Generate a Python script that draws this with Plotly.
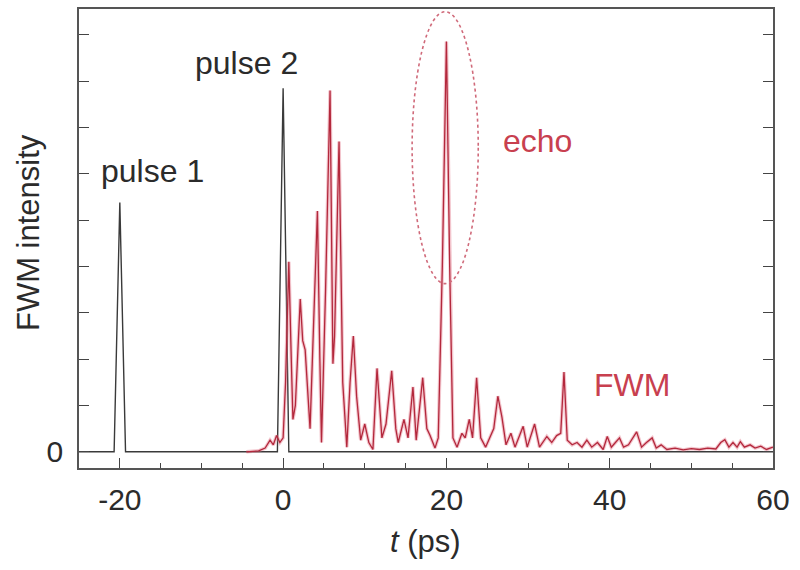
import plotly.graph_objects as go

# ---- data ----
pulse_t = [-25, -20.7, -20.0, -19.3, -0.7, 0.0, 0.7, 60]
pulse_v = [0, 0, 5.38, 0, 0, 7.85, 0, 0]

fwm_t = [-4.5, -3.0, -2.2, -1.6, -1.2, -0.8, -0.4, 0.0, 0.3, 0.7, 1.0, 1.2, 1.5, 2.1, 2.4, 2.7,
         3.3, 3.7, 4.2, 4.5, 4.7, 5.2, 5.75, 6.1, 6.3, 6.85, 7.3, 7.8, 8.2, 8.6, 9.0, 9.5,
         10.0, 10.5, 11.0, 11.5, 11.8, 12.1, 12.6, 13.3, 13.8, 14.1, 14.8, 15.3, 15.9, 16.3,
         17.1, 17.6, 18.0, 18.6, 19.0, 19.5, 20.0, 20.4, 20.8, 21.3, 21.9, 22.3, 22.8, 23.2,
         23.7, 24.2, 24.8, 25.3, 25.8, 26.3, 26.8, 27.3, 27.9, 28.4, 29.4, 29.9, 30.8, 31.4,
         32.3, 32.9, 33.5, 34.0, 34.4, 34.8, 35.4, 36.0, 36.6, 37.2, 37.8, 38.5, 39.2, 39.7,
         40.2, 40.7, 41.2, 41.7, 42.3, 43.3, 43.9, 44.5, 45.2, 45.7, 46.3, 47.0, 48.0, 49.0,
         50.0, 51.0, 52.0, 53.0, 53.6, 54.1, 54.6, 55.1, 55.6, 56.0, 56.5, 57.2, 57.8, 58.5,
         59.2, 60.0]
fwm_v = [0.0, 0.02, 0.08, 0.25, 0.15, 0.35, 0.2, 0.3, 1.5, 4.1, 2.0, 0.7, 1.0, 3.3, 2.4, 2.2,
         0.5, 2.5, 5.2, 2.0, 0.2, 3.5, 7.8, 1.9, 2.5, 6.7, 1.5, 0.1, 1.5, 2.5, 1.2, 0.25,
         0.6, 0.2, 0.05, 1.8, 1.0, 0.3, 0.6, 1.75, 0.5, 0.2, 0.7, 0.3, 1.4, 0.25,
         1.6, 0.5, 0.35, 0.08, 0.3, 4.0, 8.86, 4.0, 0.3, 0.1, 0.4, 0.3, 0.7, 0.3,
         1.6, 0.3, 0.1, 0.3, 0.5, 1.2, 0.75, 0.15, 0.4, 0.1, 0.55, 0.1, 0.6, 0.1,
         0.33, 0.2, 0.35, 0.4, 1.72, 0.25, 0.15, 0.2, 0.1, 0.25, 0.1, 0.2, 0.05, 0.33,
         0.1, 0.2, 0.3, 0.1, 0.15, 0.43, 0.1, 0.2, 0.3, 0.08, 0.15, 0.05, 0.08, 0.04,
         0.07, 0.05, 0.08, 0.06, 0.2, 0.26, 0.1, 0.2, 0.1, 0.22, 0.1, 0.15, 0.08, 0.12,
         0.05, 0.1]

x_ticks = [-20, 0, 20, 40, 60]
x_ticktext = ["-20", "0", "20", "40", "60"]
y_ticks = [0, 1, 2, 3, 4, 5, 6, 7, 8, 9]
y_ticktext = ["0", "", "", "", "", "", "", "", "", ""]

FONT = "Liberation Sans, Arial, sans-serif"
RED = "#b3283c"
TXT = "#2b2b2b"

fig = go.Figure()
fig.add_trace(go.Scatter(x=pulse_t, y=pulse_v, mode="lines",
                         line=dict(color="#3a3a3a", width=1.4), showlegend=False))
fig.add_trace(go.Scatter(x=fwm_t, y=fwm_v, mode="lines",
                         line=dict(color="rgba(225,110,130,0.4)", width=3.5), showlegend=False))
fig.add_trace(go.Scatter(x=fwm_t, y=fwm_v, mode="lines",
                         line=dict(color=RED, width=1.3), showlegend=False))

fig.add_shape(type="circle", xref="x", yref="y", x0=15.8, x1=23.9, y0=3.63, y1=9.5,
              line=dict(color="#d06a7a", width=1.6, dash="dot"))

ann = dict(showarrow=False, font=dict(family=FONT, size=32, color=TXT))
fig.add_annotation(x=-16.0, y=6.06, text="pulse 1", **ann)
fig.add_annotation(x=-4.5, y=8.4, text="pulse 2", **ann)
fig.add_annotation(x=31.2, y=6.7, text="echo", showarrow=False,
                   font=dict(family=FONT, size=32, color="#c8404f"))
fig.add_annotation(x=42.7, y=1.44, text="FWM", showarrow=False,
                   font=dict(family=FONT, size=32, color="#c8404f"))

# axis titles
fig.add_annotation(xref="paper", yref="paper", x=(425 - 79) / 694, y=-(542 - 468) / 461,
                   text="<i>t</i> (ps)", showarrow=False, yanchor="middle",
                   font=dict(family=FONT, size=31, color=TXT))
fig.add_annotation(xref="paper", yref="paper", x=-(79 - 28) / 694, y=(468 - 232) / 461,
                   text="FWM intensity", textangle=-90, showarrow=False, xanchor="center",
                   font=dict(family=FONT, size=31, color=TXT))

axis_line = dict(showline=True, linecolor="#555", linewidth=1.6, showgrid=False, zeroline=False)
fig.update_xaxes(range=[-25, 60], tickvals=x_ticks, ticktext=x_ticktext, ticks="inside",
                 ticklen=10, tickwidth=1.4, tickcolor="#444", mirror=True, ticklabelstandoff=4,
                 tickfont=dict(family=FONT, size=30, color=TXT),
                 minor=dict(ticks="inside", dtick=5, tick0=0, ticklen=5, tickwidth=1.3,
                            tickcolor="#444"),
                 **axis_line)
fig.update_yaxes(range=[-0.35, 9.56], tickvals=y_ticks, ticktext=y_ticktext, ticks="inside",
                 ticklen=10, tickwidth=1.4, tickcolor="#444", mirror="ticks",
                 ticklabelstandoff=8, tickfont=dict(family=FONT, size=30, color=TXT),
                 **axis_line)

fig.update_layout(width=800, height=570, margin=dict(l=79, r=27, t=7, b=102),
                  plot_bgcolor="white", paper_bgcolor="white")

fig.write_html("out.html")
